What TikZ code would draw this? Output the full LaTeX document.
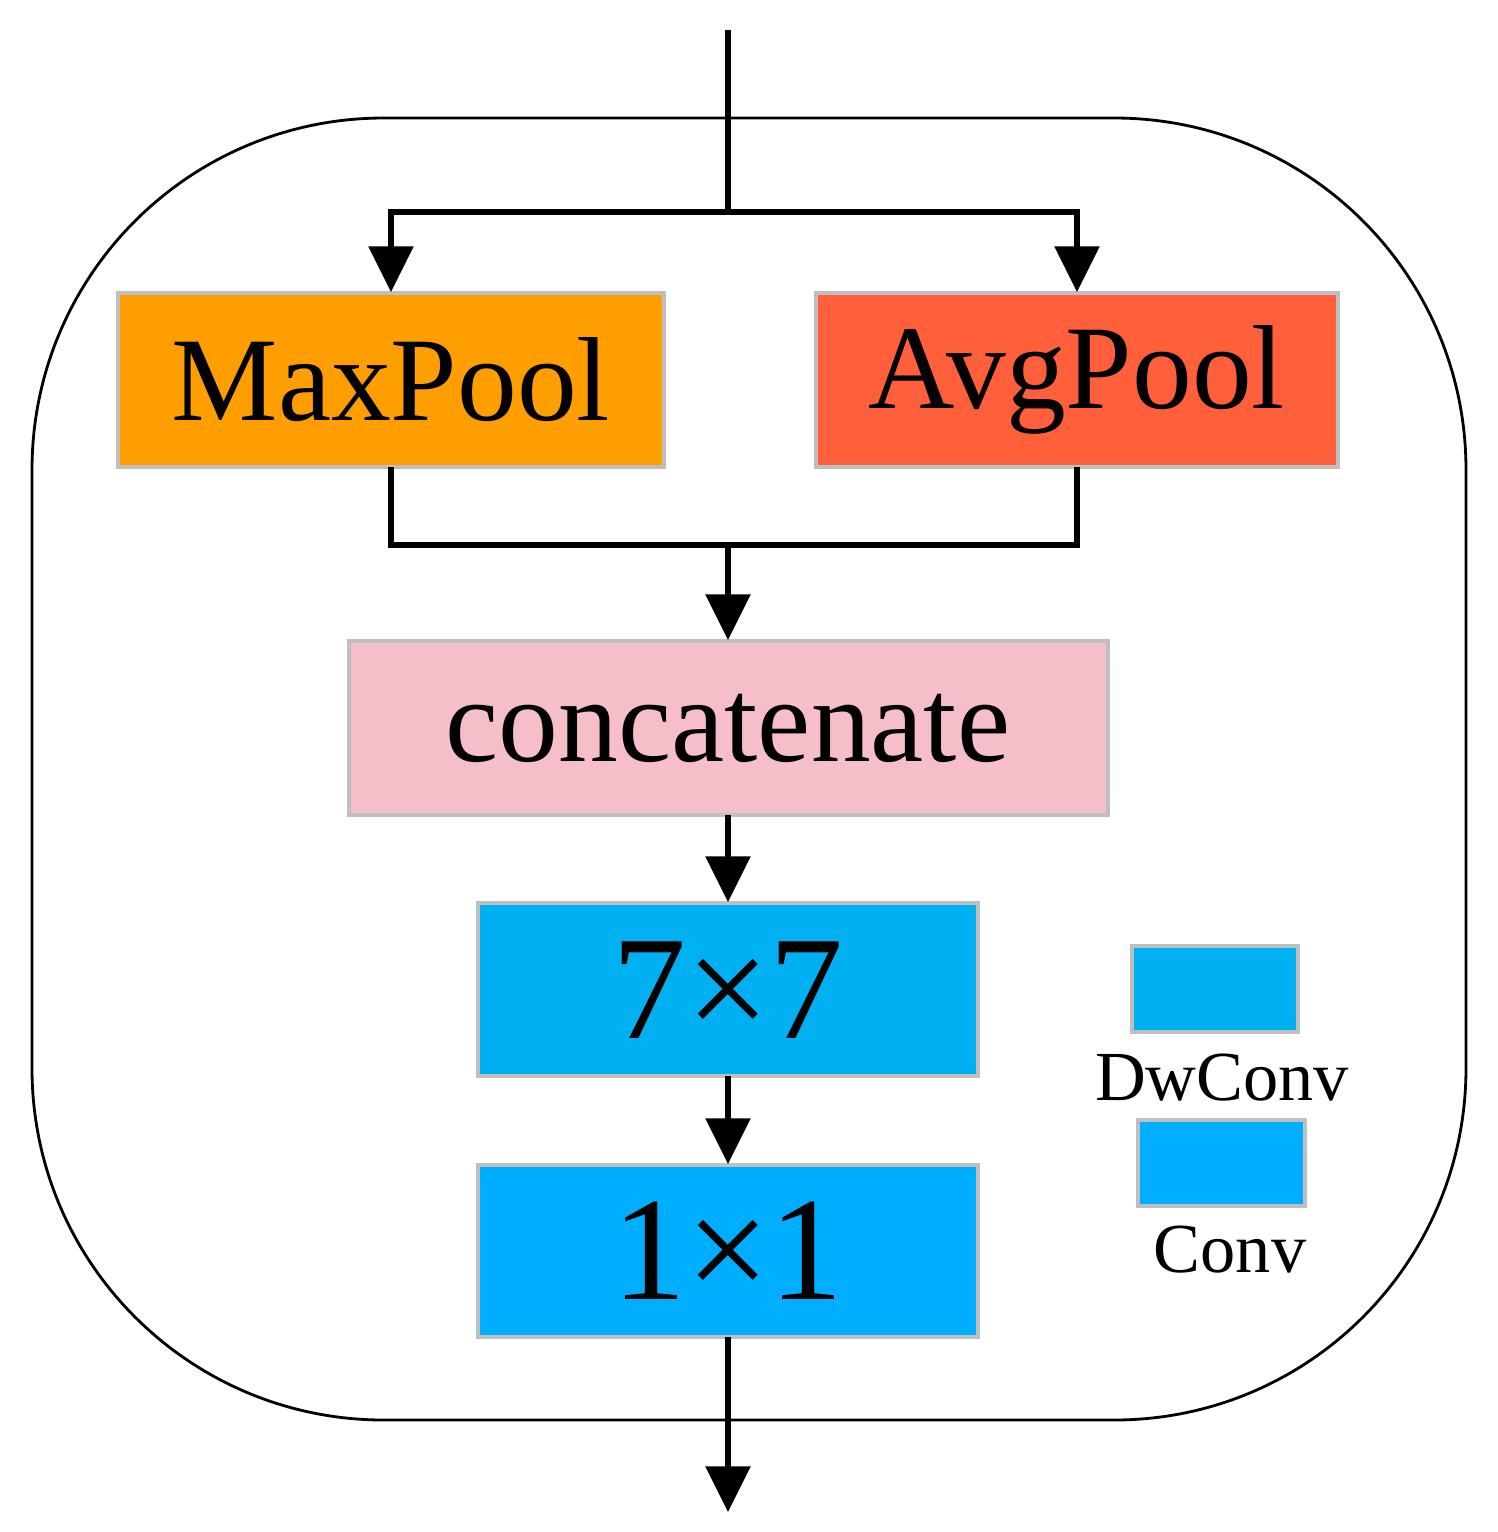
\documentclass[tikz,border=0pt]{standalone}
\usepackage{fontspec}
\setmainfont{Liberation Serif}
\usetikzlibrary{arrows.meta}
\definecolor{cmax}{HTML}{FF9E00}
\definecolor{cavg}{HTML}{FF5F3A}
\definecolor{ccat}{HTML}{F5BEC9}
\definecolor{cdw}{HTML}{00B0F0}
\definecolor{cpw}{HTML}{00AEFF}
\begin{document}
\begin{tikzpicture}[x=0.01cm,y=-0.01cm,
  box/.style={draw=black!25,line width=1.2pt},
  conn/.style={line width=1.7pt,draw=black},
  arr/.style={conn,-{Triangle[length=13pt,width=12.5pt]}},
  lbl/.style={font=\fontsize{34}{40}\selectfont}]
\useasboundingbox (0,0) rectangle (1498,1532);
\draw[line width=0.8pt,rounded corners=100] (32,118) rectangle (1466,1420);
\path[box,fill=cmax] (118,293) rectangle (664,467);
\node[lbl] (mp) at (391,380) {MaxPool};
\path[box,fill=cavg] (816,293) rectangle (1338,467);
\node[lbl] (ap) at (1077,380) {AvgPool};
\path[box,fill=ccat] (349,641) rectangle (1108,815);
\node[lbl] (cat) at (728,728) {concatenate};
\path[box,fill=cdw] (478,903) rectangle (978,1076);
\node[font=\fontsize{42}{48}\selectfont] (dw) at (728,990) {7×7};
\path[box,fill=cpw] (478,1165) rectangle (978,1337);
\node[font=\fontsize{42}{48}\selectfont] (pw) at (728,1251) {1×1};
\path[box,fill=cdw] (1132,946) rectangle (1298,1032);
\node[font=\fontsize{20}{24}\selectfont] (l1) at (1222,1078) {DwConv};
\path[box,fill=cpw] (1138,1120) rectangle (1305,1206);
\node[font=\fontsize{20}{24}\selectfont] (l2) at (1230,1250) {Conv};
\coordinate (in) at (728,30);
\coordinate (sp) at (728,212);
\coordinate (out) at (728,1512);
\draw[conn] (in) -- (sp);
\draw[arr] (sp) -| (391,292);
\draw[arr] (sp) -| (1077,292);
\draw[conn] (391,467) |- (728,545) -| (1077,467);
\draw[arr] (728,545) -- (728,640);
\draw[arr] (728,815) -- (728,902);
\draw[arr] (728,1076) -- (728,1164);
\draw[arr] (728,1337) -- (out);
\end{tikzpicture}
\end{document}
